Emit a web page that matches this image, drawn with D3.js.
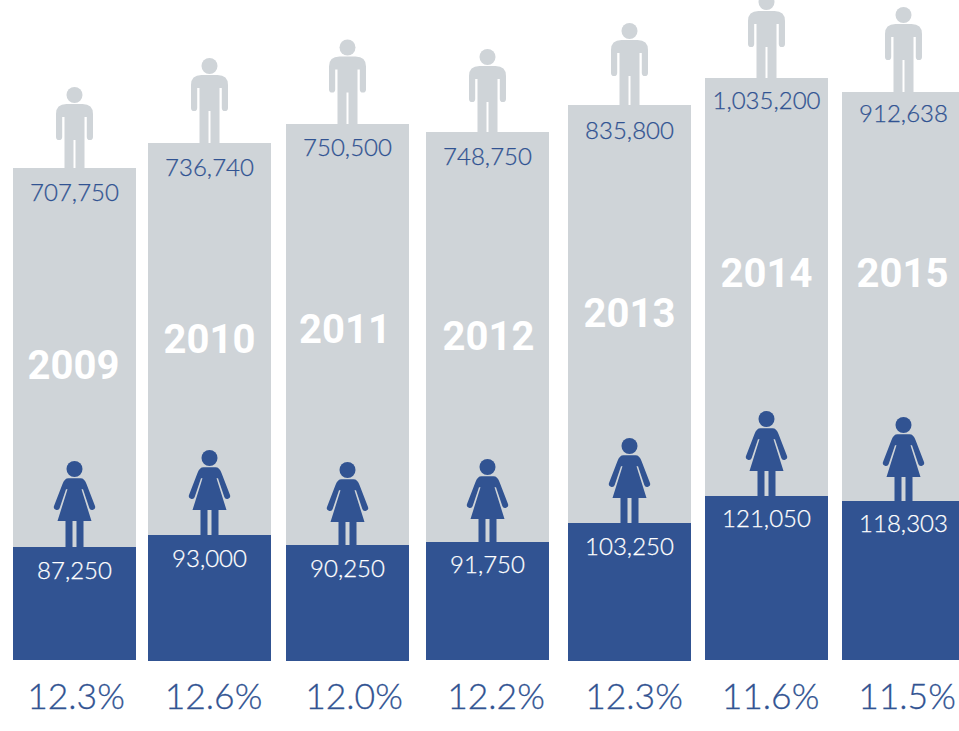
<!DOCTYPE html>
<html><head><meta charset="utf-8">
<script src="https://cdn.jsdelivr.net/npm/d3@7"></script>
<style>html,body{margin:0;padding:0;background:#fff}svg{display:block}text{font-family:Lato,"Noto Sans",sans-serif}</style>
</head><body><svg id="c" width="959" height="731"></svg>
<script>
const years=["2009","2010","2011","2012","2013","2014","2015"];
const men=[707750,736740,750500,748750,835800,1035200,912638];
const women=[87250,93000,90250,91750,103250,121050,118303];
const shares=["12.3%","12.6%","12.0%","12.2%","12.3%","11.6%","11.5%"];
const BLUE="#315392",GREY="#cfd4d8";
// Bars in the source are pictorial, not zero-based: scales are piecewise through the sorted values.
const yMen=d3.scaleLinear().domain([707750,736740,748750,750500,835800,912638,1035200]).range([168,143,132,124,105,92,78]);
const yWomen=d3.scaleLinear().domain([87250,90250,91750,93000,103250,118303,121050]).range([547,545,542,535,523,501,496]);
const ord=r=>d3.scaleOrdinal().domain(years).range(r);
const x=ord([13,148,286,426,568,705,842]);
const base=ord([660,661,661,660,661,660,660]);
const yearY=ord([379,352.5,342.5,349.5,326.5,286.5,286.5]);
const yearDx=ord([-1,0,-2.5,1,0,0,-1]);
const pctX=ord([76,213.5,354,496,634,770.5,907]);
const menLabelDy=ord([33,32.5,32,32.5,34,31,30]);
const womenLabelDy=ord([32,31.5,32,31,32,31,31]);
const manShift=ord([0,4,3.5,2,1,3,4]);
const womanShift=ord([0,1,3,3,1,1,2]);
const barW=123;
const svg=d3.select("#c");
const g=svg.selectAll("g.bar").data(years.map((y,i)=>({y,i,m:men[i],w:women[i],s:shares[i]}))).join("g").attr("class","bar");
const fmt=d3.format(",");
const manPath="M-8,-64 H8 Q18.5,-64 18.5,-54 V-31 a3.1,3.1 0 0 1 -6.2,0 V-51 H10 V12 H1 V-28 H-1 V12 H-10 V-51 H-12.3 V-31 a3.1,3.1 0 0 1 -6.2,0 V-54 Q-18.5,-64 -8,-64 Z";
const womanPath="M-6,-68.7 H6 Q10,-68.7 12,-63 L20.5,-41 a3,3 0 0 1 -5.7,2 L8.5,-57.7 H7 L17,-26 H9 V10 H2 V-26 H-2 V10 H-9 V-26 H-17 L-7,-57.7 H-8.5 L-14.8,-39 a3,3 0 0 1 -5.7,-2 L-12,-63 Q-10,-68.7 -6,-68.7 Z";
const cx=d=>x(d.y)+barW/2;
const man=g.append("g").attr("transform",d=>`translate(${cx(d)},${yMen(d.m)-manShift(d.y)})`);
man.append("circle").attr("cy",-73).attr("r",8).attr("fill",GREY);
man.append("path").attr("d",manPath).attr("fill",GREY);
g.append("rect").attr("x",d=>x(d.y)).attr("y",d=>yMen(d.m)).attr("width",barW).attr("height",d=>base(d.y)-yMen(d.m)).attr("fill",GREY);
const wom=g.append("g").attr("transform",d=>`translate(${cx(d)},${yWomen(d.w)+womanShift(d.y)})`);
wom.append("circle").attr("cy",-78).attr("r",8).attr("fill",BLUE);
wom.append("path").attr("d",womanPath).attr("fill",BLUE);
g.append("rect").attr("x",d=>x(d.y)).attr("y",d=>yWomen(d.w)).attr("width",barW).attr("height",d=>base(d.y)-yWomen(d.w)).attr("fill",BLUE);
g.append("text").attr("x",cx).attr("y",d=>yMen(d.m)+menLabelDy(d.y)).attr("text-anchor","middle").attr("font-size",24).attr("font-weight",300).attr("fill",BLUE).attr("stroke",BLUE).attr("stroke-width",0.25).text(d=>fmt(d.m));
g.append("text").attr("x",cx).attr("y",d=>yWomen(d.w)+womenLabelDy(d.y)).attr("text-anchor","middle").attr("font-size",24).attr("font-weight",300).attr("fill","#fff").attr("stroke","#fff").attr("stroke-width",0.25).text(d=>fmt(d.w));
g.append("text").attr("x",d=>cx(d)+yearDx(d.y)).attr("y",d=>yearY(d.y)).attr("text-anchor","middle").attr("font-size",40).attr("font-weight",700).style("font-family","Roboto").attr("fill","#fff").text(d=>d.y);
g.append("text").attr("x",d=>pctX(d.y)).attr("y",709).attr("text-anchor","middle").attr("font-size",35.5).attr("font-weight",300).attr("fill",BLUE).attr("stroke",BLUE).attr("stroke-width",0.3).text(d=>d.s);
</script></body></html>
